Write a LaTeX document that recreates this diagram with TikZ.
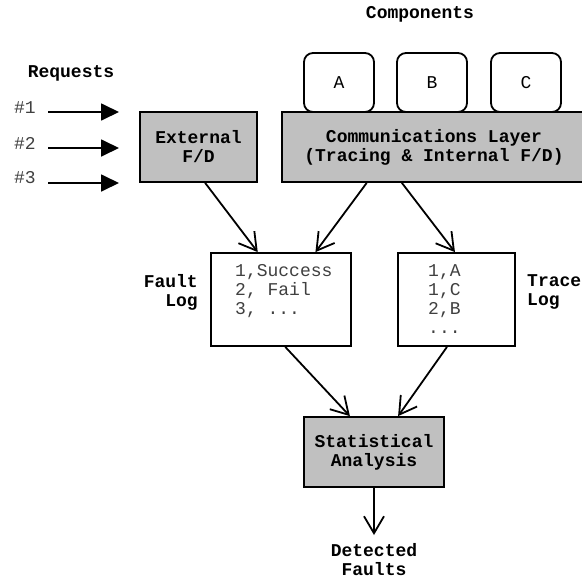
\documentclass[tikz,border=0pt]{standalone}
\usepackage{fontspec}
\setmainfont{Liberation Mono}
\usetikzlibrary{arrows.meta,calc}
\definecolor{boxgray}{RGB}{192,192,192}
\begin{document}
\begin{tikzpicture}[x=1pt,y=-1pt,
  every node/.style={font=\fontsize{18}{19}\selectfont},
  graybox/.style={draw,line width=1.8pt,fill=boxgray,minimum height=70pt,inner sep=0pt,align=center,font=\fontsize{18}{19}\selectfont\bfseries},
  whitebox/.style={draw,line width=1.8pt,fill=white,inner sep=0pt},
  comp/.style={draw,line width=1.8pt,fill=white,rounded corners=9pt,minimum width=70pt,minimum height=59pt,inner sep=0pt},
  lbl/.style={font=\fontsize{18}{19}\selectfont\bfseries,inner sep=0pt},
  body/.style={font=\fontsize{18}{19}\selectfont,text=black!75,inner sep=0pt,align=left},
  reqarr/.style={line width=1.8pt,-{Triangle[length=18pt,width=17pt]}},
  arr/.style={line width=1.8pt,-{Straight Barb[length=17pt,width=20pt,line width=1.8pt]}}]
\clip (0,0) rectangle (582,579);
\useasboundingbox (0,0) rectangle (582,579);
\fill[white] (0,0) rectangle (582,579);

% titles
\node[lbl] (req) at (71,73) {Requests};
\node[lbl] (comps) at (420,14) {Components};

% request arrows
\node[body] (r1) at (25,108) {\#1};
\node[body] (r2) at (25,143) {\#2};
\node[body] (r3) at (25,178) {\#3};
\coordinate (s1) at (48,112); \coordinate (t1) at (119,112);
\coordinate (s2) at (48,148); \coordinate (t2) at (119,148);
\coordinate (s3) at (48,183); \coordinate (t3) at (119,183);
\draw[reqarr] (s1) -- (t1);
\draw[reqarr] (s2) -- (t2);
\draw[reqarr] (s3) -- (t3);

% components
\node[comp] (A) at (339,82.5) {A};
\node[comp] (B) at (432,82.5) {B};
\node[comp] (C) at (526,82.5) {C};

% gray boxes
\node[graybox,minimum width=117pt] (ext) at (198.5,147) {External\\F/D};
\node[graybox,minimum width=304pt] (comm) at (434,147) {Communications Layer\\(Tracing \& Internal F/D)};

% logs
\node[whitebox,minimum width=140pt,minimum height=93pt] (fault) at (281,299.5) {};
\node[whitebox,minimum width=117pt,minimum height=93pt] (trace) at (456.5,299.5) {};
\node[body,anchor=north west] (ftext) at (235,264) {1,Success\\2, Fail\\3, ...};
\node[body,anchor=north west] (ttext) at (428,264) {1,A\\1,C\\2,B\\...};
\node[lbl,align=right,anchor=east] (flab) at (198,292) {Fault\\Log};
\node[lbl,align=left,anchor=west] (tlab) at (527,292) {Trace\\Log};

% statistical analysis
\node[graybox,minimum width=140pt] (stat) at (374,452) {Statistical\\Analysis};
\node[lbl,align=center] (det) at (374,560) {Detected\\Faults};
\coordinate (detarr) at (374,535);

% arrows
\draw[arr] ($(ext.south west)!0.556!(ext.south east)$) -- ($(fault.north west)!0.336!(fault.north east)$);
\draw[arr] ($(comm.south west)!0.28!(comm.south east)$) -- ($(fault.north west)!0.743!(fault.north east)$);
\draw[arr] ($(comm.south west)!0.395!(comm.south east)$) -- ($(trace.north west)!0.487!(trace.north east)$);
\draw[arr] ($(fault.south west)!0.53!(fault.south east)$) -- ($(stat.north west)!0.33!(stat.north east)$);
\draw[arr] ($(trace.south west)!0.42!(trace.south east)$) -- ($(stat.north west)!0.67!(stat.north east)$);
\draw[arr] (stat.south) -- (detarr);
\end{tikzpicture}
\end{document}
